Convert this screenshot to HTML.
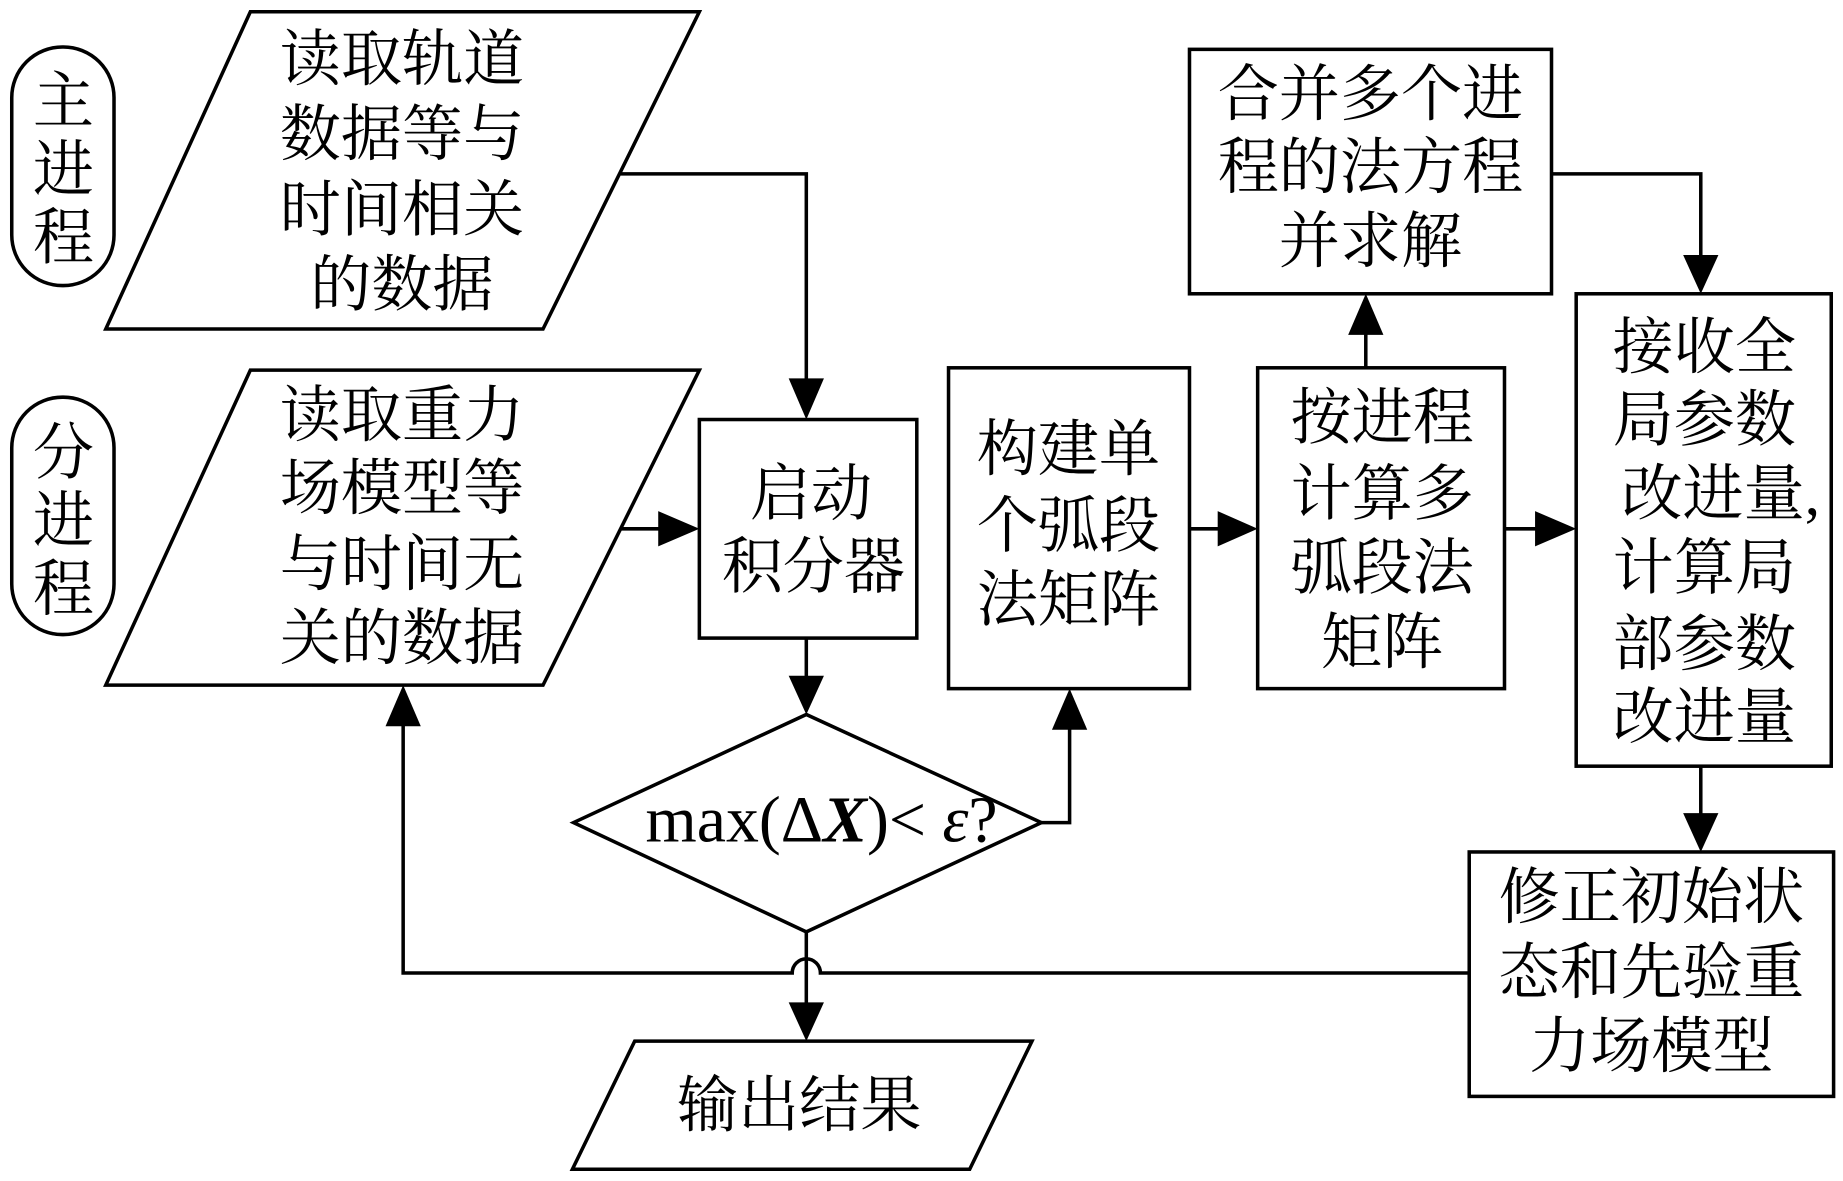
<!DOCTYPE html>
<html><head><meta charset="utf-8"><style>
html,body{margin:0;padding:0;background:#fff;}
svg{display:block;}
text{font-family:"Liberation Serif","Noto Serif CJK SC",serif;font-size:52px;fill:#000;text-anchor:middle;}
</style></head><body>
<svg width="1843" height="1181" viewBox="0 0 1568 1005" preserveAspectRatio="none" xmlns="http://www.w3.org/2000/svg">
<g fill="none" stroke="#000" stroke-width="3">
<rect x="10" y="40" width="87" height="203" rx="43"/>
<rect x="10" y="338" width="87" height="202" rx="43"/>
<polygon points="213,10 595,10 462,280 90,280"/>
<polygon points="213,315 595,315 462,583 90,583"/>
<rect x="595" y="357" width="185" height="186"/>
<rect x="807" y="313" width="205" height="273"/>
<rect x="1070" y="313" width="210" height="273"/>
<rect x="1012" y="42" width="308" height="208"/>
<rect x="1341" y="250" width="217" height="402"/>
<rect x="1250" y="725" width="310" height="208"/>
<polygon points="488,700 686,608 886,700 686,793"/>
<polygon points="540,886 878,886 825,995 487,995"/>
<polyline points="528,148 686,148 686,325"/>
<line x1="528" y1="450" x2="565" y2="450"/>
<line x1="686" y1="543" x2="686" y2="578"/>
<polyline points="886,700 910,700 910,618"/>
<line x1="1012" y1="450" x2="1040" y2="450"/>
<line x1="1280" y1="450" x2="1311" y2="450"/>
<line x1="1162" y1="313" x2="1162" y2="282"/>
<polyline points="1320,148 1447,148 1447,220"/>
<line x1="1447" y1="652" x2="1447" y2="695"/>
<path d="M1250,828 L698,828 A12,12 0 0 0 674,828 L343,828 L343,615"/>
<line x1="686" y1="793" x2="686" y2="856"/>
</g>
<g fill="#000">
<polygon points="671,322 701,322 686,357"/>
<polygon points="560,435 560,465 595,450"/>
<polygon points="671,575 701,575 686,608"/>
<polygon points="895,621 925,621 910,586"/>
<polygon points="1036,435 1036,465 1070,450"/>
<polygon points="1306,435 1306,465 1341,450"/>
<polygon points="1147,285 1177,285 1162,250"/>
<polygon points="1432,217 1462,217 1447,250"/>
<polygon points="1432,692 1462,692 1447,725"/>
<polygon points="328,618 358,618 343,583"/>
<polygon points="671,853 701,853 686,886"/>
</g>
<text x="54" y="104">主</text><text x="54" y="162">进</text><text x="54" y="220">程</text>
<text x="54" y="403">分</text><text x="54" y="461">进</text><text x="54" y="519">程</text>
<text x="342" y="68">读取轨道</text><text x="342" y="132">数据等与</text><text x="342" y="196">时间相关</text><text x="342" y="260">的数据</text>
<text x="342" y="371">读取重力</text><text x="342" y="433">场模型等</text><text x="342" y="498">与时间无</text><text x="342" y="561">关的数据</text>
<text x="690" y="438">启动</text><text x="692" y="500">积分器</text>
<text x="909" y="400">构建单</text><text x="909" y="465">个弧段</text><text x="909" y="528">法矩阵</text>
<text x="1176" y="373">按进程</text><text x="1176" y="438">计算多</text><text x="1176" y="501">弧段法</text><text x="1176" y="564">矩阵</text>
<text x="1166" y="98">合并多个进</text><text x="1166" y="160">程的法方程</text><text x="1166" y="223">并求解</text>
<text x="1450" y="313">接收全</text><text x="1450" y="375">局参数</text><text x="1464" y="438">改进量,</text><text x="1450" y="501">计算局</text><text x="1450" y="566">部参数</text><text x="1450" y="628">改进量</text>
<text x="1405" y="781">修正初始状</text><text x="1405" y="845">态和先验重</text><text x="1405" y="908">力场模型</text>
<text x="680" y="958">输出结果</text>
<text x="699" y="716" style="font-size:56px">max(Δ<tspan font-weight="bold" font-style="italic">X</tspan>)&lt; <tspan font-style="italic">ε</tspan>?</text>
</svg>
</body></html>
